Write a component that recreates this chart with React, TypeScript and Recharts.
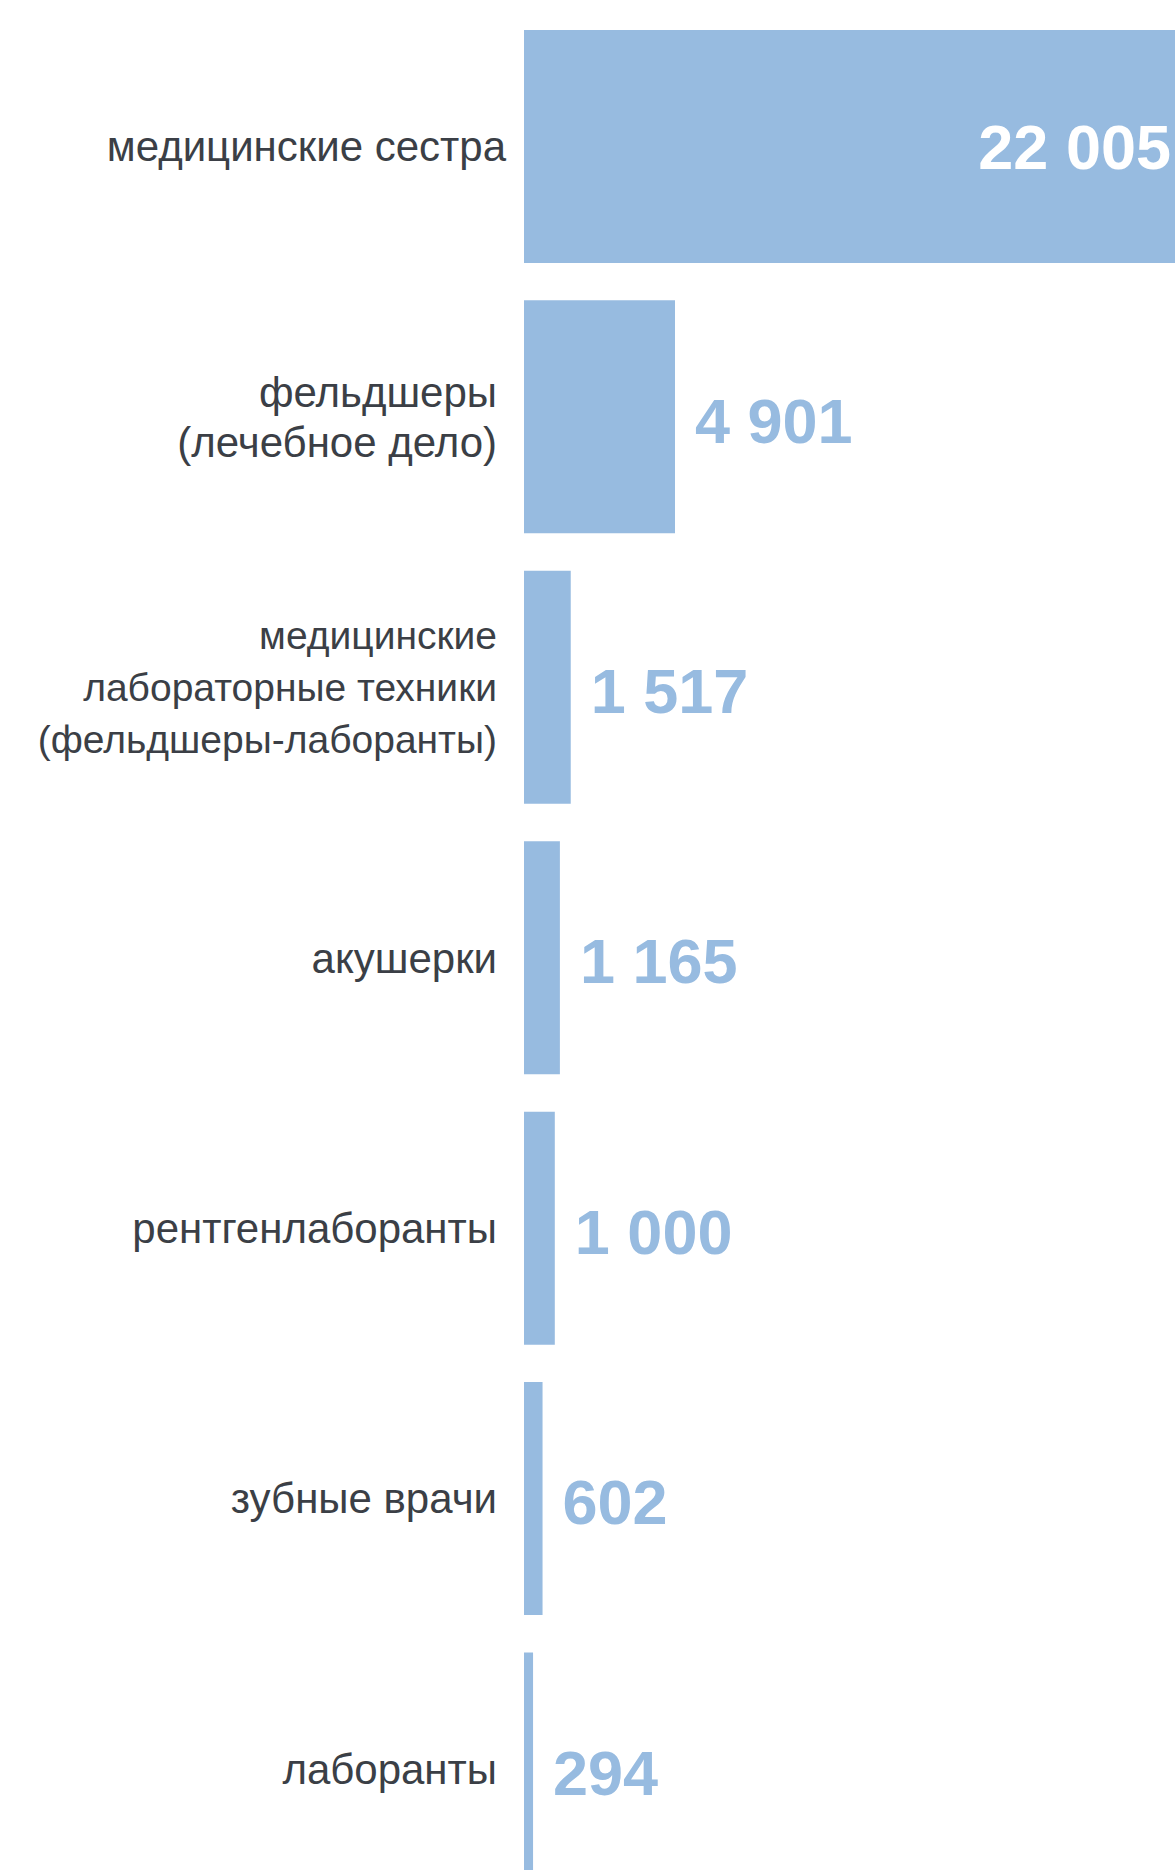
import { Bar, BarChart, LabelList, XAxis, YAxis } from "recharts";

const BAR_FILL = "#97bbe0";
const TEXT_DARK = "#3b3f46";
const FONT = '"Liberation Sans", Arial, sans-serif';

const categories = [
  "медицинские сестра",
  "фельдшеры\n(лечебное дело)",
  "медицинские\nлабораторные техники\n(фельдшеры-лаборанты)",
  "акушерки",
  "рентгенлаборанты",
  "зубные врачи",
  "лаборанты",
];
const counts = [22005, 4901, 1517, 1165, 1000, 602, 294];

const data = categories.map((name, i) => ({ name, count: counts[i] }));

const fmt = (v: number) => String(v).replace(/\B(?=(\d{3})+(?!\d))/g, " ");

function CategoryTick(props: any) {
  const { x, y, payload, index } = props;
  const lines: string[] = String(payload.value).split("\n");
  // the three-line label is set smaller so it fits
  const size = lines.length > 2 ? 39 : 42;
  const lineH = lines.length > 2 ? 52 : 50;
  return (
    <g>
      {lines.map((line, i) => (
        <text
          key={i}
          x={index === 0 ? x + 9 : x}
          y={y + (i - (lines.length - 1) / 2) * lineH}
          dy="0.36em"
          textAnchor="end"
          fill={TEXT_DARK}
          fontSize={size}
          fontFamily={FONT}
        >
          {line}
        </text>
      ))}
    </g>
  );
}

function ValueLabel(props: any) {
  const { x, y, width, height, value, index } = props;
  const cy = y + height / 2;
  if (index === 0) {
    return (
      <text
        x={x + width - 31}
        y={cy}
        dy="0.36em"
        textAnchor="end"
        fill="#ffffff"
        fontSize={63}
        fontWeight="bold"
        fontFamily={FONT}
      >
        {fmt(value)}
      </text>
    );
  }
  return (
    <text
      x={x + width + 20}
      y={cy + 3}
      dy="0.36em"
      textAnchor="start"
      fill={BAR_FILL}
      fontSize={63}
      fontWeight="bold"
      fontFamily={FONT}
    >
      {fmt(value)}
    </text>
  );
}

export default function App() {
  return (
    <>
      <style>{`body{margin:0;overflow:hidden;background:#fff}`}</style>
      <div style={{ width: 1175, height: 1870, overflow: "hidden", position: "relative" }}>
        <BarChart
          width={1210}
          height={1904}
          data={data}
          layout="vertical"
          margin={{ top: 11, right: 8, bottom: 0, left: 0 }}
          barCategoryGap="7%"
        >
          <XAxis type="number" dataKey="count" domain={[0, 22005]} hide />
          <YAxis
            type="category"
            dataKey="name"
            width={524}
            axisLine={false}
            tickLine={false}
            tickSize={0}
            tickMargin={27}
            interval={0}
            tick={<CategoryTick />}
          />
          <Bar dataKey="count" fill={BAR_FILL} isAnimationActive={false}>
            <LabelList dataKey="count" content={<ValueLabel />} />
          </Bar>
        </BarChart>
      </div>
    </>
  );
}
